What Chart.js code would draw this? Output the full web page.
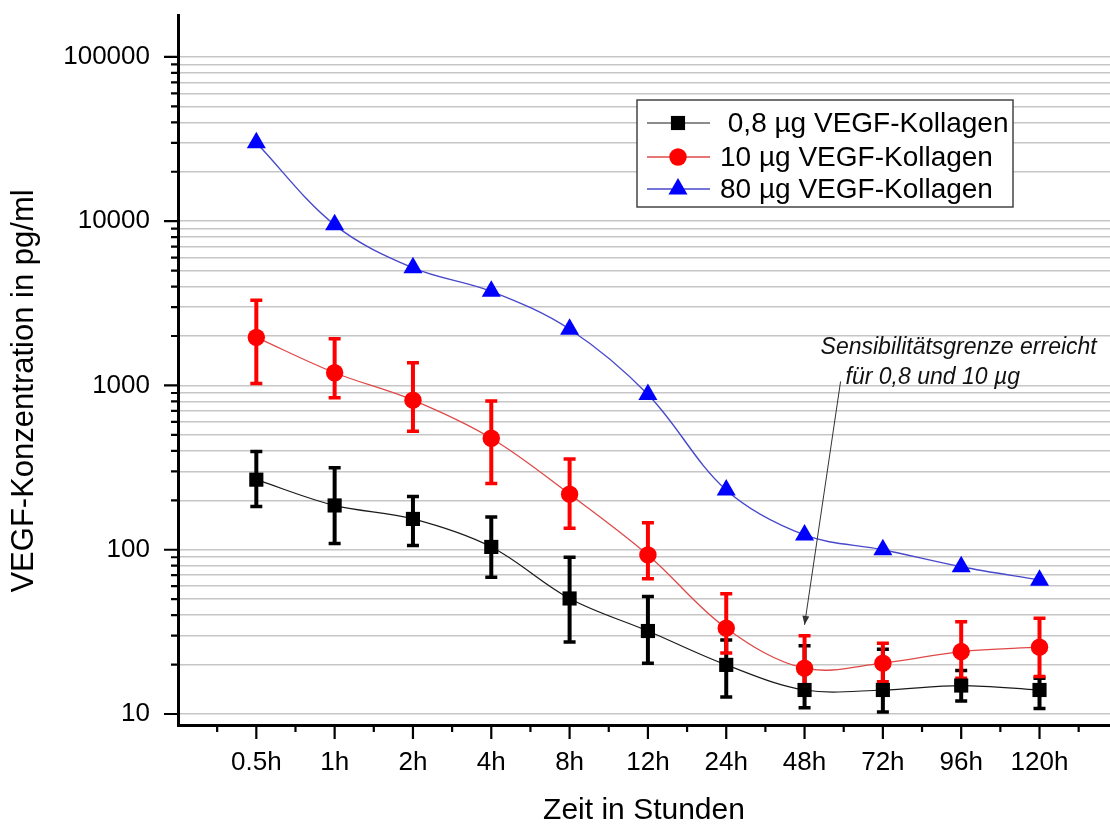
<!DOCTYPE html>
<html>
<head>
<meta charset="utf-8">
<script src="https://cdn.jsdelivr.net/npm/chart.js@4.4.1/dist/chart.umd.min.js"></script>
<style>html,body{margin:0;padding:0;background:#fff}canvas{display:block}</style>
</head>
<body>
<canvas id="c" width="1110" height="829" style="width:1110px;height:829px"></canvas>
<script>
// ---- data ----
const categories = ['0.5h', '1h', '2h', '4h', '8h', '12h', '24h', '48h', '72h', '96h', '120h'];
const seriesLabels = [' 0,8 µg VEGF-Kollagen', '10 µg VEGF-Kollagen', '80 µg VEGF-Kollagen'];
const vegf08 = [267, 186, 154, 104, 50.5, 32, 19.9, 14.0, 14.0, 14.9, 14.0];
const vegf08Upper = [396, 316, 211, 158, 90, 52, 28.2, 26, 24.8, 18.4, 16.5];
const vegf08Lower = [183, 109, 106, 68, 27.4, 20.4, 12.7, 10.9, 10.3, 12.0, 10.8];
const vegf10 = [1963, 1195, 814, 477, 218, 93, 33.3, 19.0, 20.4, 24, 25.5];
const vegf10Upper = [3300, 1927, 1375, 803, 357, 146, 54, 29.9, 27, 36.5, 38.3];
const vegf10Lower = [1028, 841, 527, 253, 135, 66.5, 23.5, 14.0, 15.7, 16.5, 16.9];
const vegf80 = [30000, 9500, 5200, 3740, 2200, 881, 231, 123, 100, 78.8, 65.3];
const yTickLabels = [10, 100, 1000, 10000, 100000];
const annotationLines = ['Sensibilitätsgrenze erreicht', 'für 0,8 und 10 µg'];
const arrowFrom = { x: 7.46, y: 1058 };
const arrowTo = { x: 7.0, y: 34.9 };

const FONT = "'Liberation Sans', Arial, Helvetica, sans-serif";
Chart.defaults.font.family = FONT;
Chart.defaults.color = '#000';

function isNice(v) {
  if (!(v > 0)) return false;
  const p = Math.pow(10, Math.floor(Math.log10(v) + 1e-9));
  const m = v / p;
  return Math.abs(m - Math.round(m)) < 1e-6;
}
function isPow10(v) { const l = Math.log10(v); return Math.abs(l - Math.round(l)) < 1e-9; }
const toPoints = arr => arr.map((v, i) => ({ x: i, y: v }));

// ---- plugins ----
const whiteBg = {
  id: 'whiteBg',
  beforeDraw(chart) {
    const c = chart.ctx; c.save(); c.fillStyle = '#fff'; c.fillRect(0, 0, chart.width, chart.height); c.restore();
    const yScale = chart.scales.y;
    if (yScale && !yScale._shifted) {
      yScale._shifted = true;
      const orig = yScale.drawTitle;
      yScale.drawTitle = function () { const cc = this.ctx; cc.save(); cc.translate(0, 21); orig.apply(this, arguments); cc.restore(); };
    }
  }
};

const errorBars = {
  id: 'errorBars',
  beforeDatasetsDraw(chart) {
    const { ctx, scales: { x, y } } = chart;
    chart.data.datasets.forEach(ds => {
      if (!ds.errUpper) return;
      ctx.save();
      ctx.strokeStyle = ds.errColor;
      ds.errUpper.forEach((u, i) => {
        const px = x.getPixelForValue(i);
        const pu = y.getPixelForValue(u);
        const pl = y.getPixelForValue(ds.errLower[i]);
        ctx.lineWidth = 4;
        ctx.beginPath(); ctx.moveTo(px, pu); ctx.lineTo(px, pl); ctx.stroke();
        ctx.lineWidth = 3.5;
        ctx.beginPath();
        ctx.moveTo(px - 6, pu); ctx.lineTo(px + 6, pu);
        ctx.moveTo(px - 6, pl); ctx.lineTo(px + 6, pl);
        ctx.stroke();
      });
      ctx.restore();
    });
  }
};

const tickMarks = {
  id: 'tickMarks',
  afterDraw(chart) {
    const { ctx, chartArea: ca, scales: { x, y } } = chart;
    ctx.save();
    ctx.strokeStyle = '#000';
    ctx.lineWidth = 2.2;
    ctx.beginPath();
    y.ticks.forEach(t => {
      if (!isNice(t.value)) return;
      const py = y.getPixelForValue(t.value);
      const len = isPow10(t.value) ? 14 : 7;
      ctx.moveTo(ca.left - len, py); ctx.lineTo(ca.left, py);
    });
    for (let i = 0; i < categories.length; i++) {
      const px = x.getPixelForValue(i);
      ctx.moveTo(px, ca.bottom); ctx.lineTo(px, ca.bottom + 14);
    }
    for (let i = 0; i <= categories.length; i++) {
      const px = x.getPixelForValue(i - 0.5);
      ctx.moveTo(px, ca.bottom); ctx.lineTo(px, ca.bottom + 7);
    }
    ctx.stroke();
    ctx.restore();
  }
};

function drawMarker(ctx, style, r, cx, cy) {
  if (Chart.helpers && Chart.helpers.drawPoint) {
    Chart.helpers.drawPoint(ctx, { pointStyle: style, radius: r, borderWidth: 0, rotation: 0 }, cx, cy);
    return;
  }
  ctx.beginPath();
  if (style === 'rect') { const s = r * Math.SQRT1_2; ctx.rect(cx - s, cy - s, 2 * s, 2 * s); }
  else if (style === 'triangle') {
    for (let k = 0; k < 3; k++) { const a = k * 2 * Math.PI / 3; const px = cx + Math.sin(a) * r, py = cy - Math.cos(a) * r; k ? ctx.lineTo(px, py) : ctx.moveTo(px, py); }
    ctx.closePath();
  } else ctx.arc(cx, cy, r, 0, Math.PI * 2);
  ctx.fill();
}

const boxLegend = {
  id: 'boxLegend',
  afterDraw(chart) {
    const { ctx, chartArea: ca } = chart;
    const L = ca.right - 473, T = ca.top + 85, W = 376, H = 107;
    const rows = [23, 57, 89];
    ctx.save();
    ctx.fillStyle = '#fff'; ctx.fillRect(L, T, W, H);
    ctx.strokeStyle = '#444'; ctx.lineWidth = 1.5; ctx.strokeRect(L, T, W, H);
    chart.data.datasets.forEach((ds, i) => {
      const cy = T + rows[i];
      ctx.strokeStyle = ds.borderColor; ctx.lineWidth = ds.borderWidth;
      ctx.beginPath(); ctx.moveTo(L + 10, cy); ctx.lineTo(L + 73, cy); ctx.stroke();
      ctx.fillStyle = ds.pointBackgroundColor;
      drawMarker(ctx, ds.pointStyle, ds.pointRadius, L + 41, cy);
      ctx.fillStyle = '#000';
      ctx.font = '28px ' + FONT;
      ctx.textBaseline = 'middle'; ctx.textAlign = 'left';
      ctx.fillText(ds.label, L + 83, cy + 1);
    });
    ctx.restore();
  }
};

const annotation = {
  id: 'annotation',
  afterDraw(chart) {
    const { ctx, scales: { x, y } } = chart;
    const sx = x.getPixelForValue(arrowFrom.x), sy = y.getPixelForValue(arrowFrom.y);
    const ex = x.getPixelForValue(arrowTo.x), ey = y.getPixelForValue(arrowTo.y);
    ctx.save();
    ctx.strokeStyle = '#333'; ctx.fillStyle = '#333'; ctx.lineWidth = 1;
    ctx.beginPath(); ctx.moveTo(sx, sy); ctx.lineTo(ex, ey); ctx.stroke();
    const a = Math.atan2(ey - sy, ex - sx);
    ctx.beginPath();
    ctx.moveTo(ex, ey);
    ctx.lineTo(ex - 9 * Math.cos(a) + 3.5 * Math.sin(a), ey - 9 * Math.sin(a) - 3.5 * Math.cos(a));
    ctx.lineTo(ex - 9 * Math.cos(a) - 3.5 * Math.sin(a), ey - 9 * Math.sin(a) + 3.5 * Math.cos(a));
    ctx.closePath(); ctx.fill();
    ctx.fillStyle = '#111';
    ctx.font = 'italic 23px ' + FONT;
    ctx.textBaseline = 'middle'; ctx.textAlign = 'left';
    ctx.fillText(annotationLines[0], sx - 20, sy - 34);
    ctx.fillText(annotationLines[1], sx + 5, sy - 4);
    ctx.restore();
  }
};

// ---- chart ----
new Chart(document.getElementById('c'), {
  type: 'line',
  data: {
    datasets: [
      { label: seriesLabels[0], data: toPoints(vegf08), borderColor: '#1a1a1a', borderWidth: 1.2,
        pointBackgroundColor: '#000', pointBorderColor: '#000', pointBorderWidth: 0, pointStyle: 'rect', pointRadius: 10,
        tension: 0.35, errUpper: vegf08Upper, errLower: vegf08Lower, errColor: '#000' },
      { label: seriesLabels[1], data: toPoints(vegf10), borderColor: '#e04848', borderWidth: 1.3,
        pointBackgroundColor: '#ff0000', pointBorderColor: '#ff0000', pointBorderWidth: 0, pointStyle: 'circle', pointRadius: 8.7,
        tension: 0.35, errUpper: vegf10Upper, errLower: vegf10Lower, errColor: '#ff0000' },
      { label: seriesLabels[2], data: toPoints(vegf80), borderColor: '#4848cc', borderWidth: 1.4,
        pointBackgroundColor: '#0000ff', pointBorderColor: '#0000ff', pointBorderWidth: 0, pointStyle: 'triangle', pointRadius: 11,
        tension: 0.35 }
    ]
  },
  options: {
    responsive: false,
    animation: false,
    devicePixelRatio: 1,
    events: [],
    layout: { autoPadding: false, padding: { top: 15, right: 0, left: 0, bottom: 0 } },
    plugins: { legend: { display: false }, tooltip: { enabled: false } },
    scales: {
      x: {
        type: 'linear', min: -1, max: 10.9,
        afterBuildTicks: s => { s.ticks = categories.map((c, i) => ({ value: i })); },
        afterFit: s => { s.height = 104; s.paddingLeft = 0; s.paddingRight = 0; },
        ticks: { callback: v => categories[v] ?? '', font: { size: 26 }, color: '#000', padding: 22, autoSkip: false, maxRotation: 0 },
        grid: { display: false, drawTicks: false },
        border: { display: true, color: '#000', width: 3 },
        title: { display: true, text: 'Zeit in Stunden', font: { size: 30 }, color: '#000', padding: { top: 0, bottom: 0 } }
      },
      y: {
        type: 'logarithmic', min: 8.57, max: 180000,
        afterFit: s => { s.width = 178; s.paddingTop = 0; s.paddingBottom = 0; },
        ticks: { callback: v => (yTickLabels.includes(Math.round(v)) && isPow10(v)) ? String(Math.round(v)) : '',
                 font: { size: 26 }, color: '#000', padding: 28, autoSkip: false },
        grid: { color: c => (c.tick && isNice(c.tick.value)) ? '#c6c6c6' : 'rgba(0,0,0,0)', lineWidth: 1.5, drawTicks: false },
        border: { display: true, color: '#000', width: 3 },
        title: { display: true, text: 'VEGF-Konzentration in pg/ml', font: { size: 31 }, color: '#000', padding: { top: 6, bottom: 0 } }
      }
    }
  },
  plugins: [whiteBg, errorBars, tickMarks, boxLegend, annotation]
});
</script>
</body>
</html>
